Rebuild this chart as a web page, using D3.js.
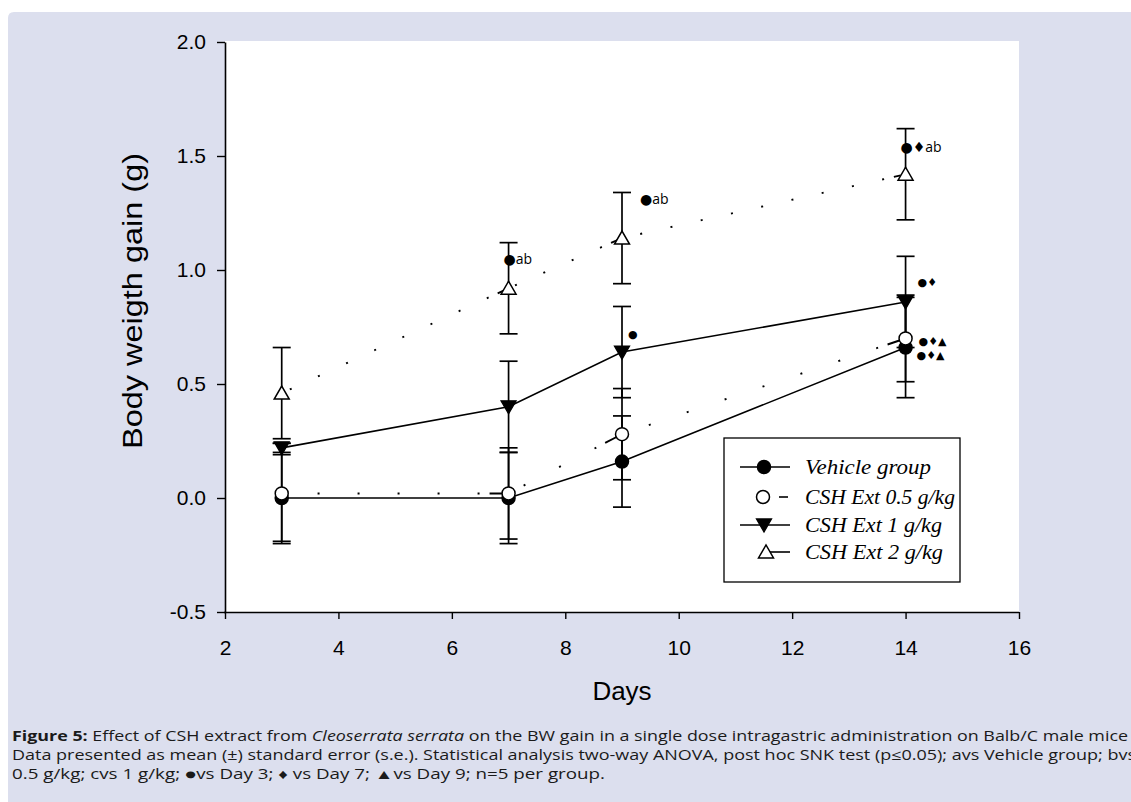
<!DOCTYPE html>
<html>
<head>
<meta charset="utf-8">
<script src="https://cdn.jsdelivr.net/npm/d3@7"></script>
<style>
  html, body { margin: 0; padding: 0; background: #ffffff; }
  svg { display: block; }
</style>
</head>
<body>
<svg id="chart" width="1131" height="802"></svg>
<script>
// ---------------- data ----------------
const days = [3, 7, 9, 14];
const seriesNames = ["Vehicle group", "CSH Ext 0.5 g/kg", "CSH Ext 1 g/kg", "CSH Ext 2 g/kg"];
const vehicleMean = [0.00, 0.00, 0.16, 0.66];
const vehicleErr  = [0.19, 0.20, 0.20, 0.22];
const csh05Mean   = [0.02, 0.02, 0.28, 0.70];
const csh05Err    = [0.22, 0.20, 0.20, 0.19];
const csh1Mean    = [0.22, 0.40, 0.64, 0.86];
const csh1Err     = [0.02, 0.20, 0.20, 0.20];
const csh2Mean    = [0.46, 0.92, 1.14, 1.42];
const csh2Err     = [0.20, 0.20, 0.20, 0.20];
const xTicks = [2, 4, 6, 8, 10, 12, 14, 16];
const yTicks = [-0.5, 0.0, 0.5, 1.0, 1.5, 2.0];
// significance annotations: day, value (vertical position in data units), label
const annotDays   = [7, 9, 14, 9, 14, 14, 14];
const annotValues = [1.05, 1.31, 1.54, 0.72, 0.945, 0.69, 0.625];
const annotLabels = ["●ab", "●ab", "●♦ab", "●", "●♦", "●♦▲", "●♦▲"];
const captionLines = [
  [{t: "Figure 5:", b: true}, {t: " Effect of CSH extract from "}, {t: "Cleoserrata serrata", i: true}, {t: " on the BW gain in a single dose intragastric administration on Balb/C male mice"}],
  [{t: "Data presented as mean (±) standard error (s.e.). Statistical analysis two-way ANOVA, post hoc SNK test (p≤0.05); avs Vehicle group; bvs"}],
  [{t: "0.5 g/kg; cvs 1 g/kg; ●vs Day 3; ♦ vs Day 7; ▲vs Day 9; n=5 per group."}]
];

// ---------------- layout ----------------
const svg = d3.select("#chart");
const W = 1131, H = 802;
const plot = {left: 225, right: 1019, top: 41, bottom: 612};
const annotShift = [-5, 18, -5, 6, 12, 13, 11];   // label placement offsets (px) from the day position

svg.append("path")
  .attr("d", `M8,${H} L8,18 Q8,12 14,12 L${W},12 L${W},${H} Z`)
  .attr("fill", "#dcdfee");

svg.append("rect")
  .attr("x", plot.left).attr("y", plot.top)
  .attr("width", plot.right - plot.left).attr("height", plot.bottom - plot.top)
  .attr("fill", "#ffffff");

const x = d3.scaleLinear().domain([2, 16]).range([plot.left, plot.right]);
const y = d3.scaleLinear().domain([-0.5, 2.0]).range([plot.bottom, 42]);

// axes
const axisFont = "'Liberation Sans', Arial, sans-serif";
const xAxis = svg.append("g")
  .attr("transform", `translate(0,${plot.bottom})`)
  .call(d3.axisBottom(x).tickValues(xTicks).tickSize(7).tickSizeOuter(0).tickFormat(d3.format("d")));
const yAxis = svg.append("g")
  .attr("transform", `translate(${plot.left},0)`)
  .call(d3.axisLeft(y).tickValues(yTicks).tickSize(8).tickSizeOuter(0).tickFormat(d3.format(".1f")));
[xAxis, yAxis].forEach(g => {
  g.select(".domain").attr("stroke", "#000").attr("stroke-width", 1.6);
  g.selectAll(".tick line").attr("stroke", "#000").attr("stroke-width", 1.4);
  g.selectAll(".tick text").attr("font-family", axisFont)
    .attr("font-size", 21).attr("fill", "#000");
});
xAxis.selectAll(".tick text").attr("dy", null).attr("y", 43);
yAxis.selectAll(".tick text").attr("x", -19).text(d => d.toFixed(1));
xAxis.select(".domain").attr("d", `M${plot.left - 1},0.5H${plot.right}`);

svg.append("text")
  .attr("x", 622).attr("y", 700)
  .attr("text-anchor", "middle")
  .attr("font-family", axisFont)
  .attr("font-size", 26)
  .text("Days");

svg.append("text")
  .attr("transform", `translate(142,301) rotate(-90)`)
  .attr("text-anchor", "middle")
  .attr("font-family", axisFont)
  .attr("font-size", 27)
  .attr("textLength", 296).attr("lengthAdjust", "spacingAndGlyphs")
  .text("Body weigth gain (g)");

// ---------------- series ----------------
const series = [
  {name: seriesNames[0], mean: vehicleMean, err: vehicleErr, marker: "circle", fill: "#000", dotted: false},
  {name: seriesNames[2], mean: csh1Mean, err: csh1Err, marker: "down", fill: "#000", dotted: false},
  {name: seriesNames[1], mean: csh05Mean, err: csh05Err, marker: "circle", fill: "#fff", dotted: true, period: 40, endDash: 14},
  {name: seriesNames[3], mean: csh2Mean, err: csh2Err, marker: "up", fill: "#fff", dotted: true, period: 31, endDash: 7}
];

const gErr = svg.append("g");
const gLine = svg.append("g");
const gMark = svg.append("g");
const capHalf = 9;

series.forEach(s => {
  days.forEach((d, i) => {
    const cx = x(d), hi = y(s.mean[i] + s.err[i]), lo = y(s.mean[i] - s.err[i]);
    gErr.append("line").attr("x1", cx).attr("x2", cx).attr("y1", hi).attr("y2", lo)
      .attr("stroke", "#000").attr("stroke-width", 1.7);
    [hi, lo].forEach(v => gErr.append("line")
      .attr("x1", cx - capHalf).attr("x2", cx + capHalf).attr("y1", v).attr("y2", v)
      .attr("stroke", "#000").attr("stroke-width", 1.7));
  });
});

function dotPattern(len, period, endDash) {
  // segment drawn from the end marker back to the start marker
  const arr = [0, 5, endDash, 10];
  let sum = 15 + endDash;
  while (sum < len + period) { arr.push(2, period - 2); sum += period; }
  return arr.join(",");
}

series.forEach(s => {
  if (!s.dotted) {
    gLine.append("path")
      .attr("d", d3.line().x((d, i) => x(days[i])).y(d => y(d))(s.mean))
      .attr("fill", "none").attr("stroke", "#000").attr("stroke-width", 1.6);
  } else {
    for (let i = 0; i < days.length - 1; i++) {
      const x1 = x(days[i + 1]), y1 = y(s.mean[i + 1]), x0 = x(days[i]), y0 = y(s.mean[i]);
      const len = Math.hypot(x1 - x0, y1 - y0);
      gLine.append("line")
        .attr("x1", x1).attr("y1", y1).attr("x2", x0).attr("y2", y0)
        .attr("stroke", "#000").attr("stroke-width", 1.9)
        .attr("stroke-dasharray", dotPattern(len, s.period, s.endDash));
    }
  }
});

function drawMarker(g, type, cx, cy, fill) {
  if (type === "circle") {
    g.append("circle").attr("cx", cx).attr("cy", cy).attr("r", 6.5)
      .attr("fill", fill).attr("stroke", "#000").attr("stroke-width", 1.5);
  } else if (type === "down") {
    g.append("path").attr("d", `M${cx - 7.5},${cy - 6} L${cx + 7.5},${cy - 6} L${cx},${cy + 7} Z`)
      .attr("fill", fill).attr("stroke", "#000").attr("stroke-width", 1.3);
  } else {
    g.append("path").attr("d", `M${cx - 7.5},${cy + 6} L${cx + 7.5},${cy + 6} L${cx},${cy - 7} Z`)
      .attr("fill", fill).attr("stroke", "#000").attr("stroke-width", 1.5);
  }
}

series.forEach(s => {
  days.forEach((d, i) => drawMarker(gMark, s.marker, x(d), y(s.mean[i]), s.fill));
});

// annotations
const gAnn = svg.append("g");
annotLabels.forEach((lab, i) => {
  gAnn.append("text")
    .attr("x", x(annotDays[i]) + annotShift[i])
    .attr("y", y(annotValues[i]))
    .attr("dy", "0.35em")
    .attr("font-family", "'Open Sans', 'DejaVu Sans', sans-serif")
    .attr("font-size", lab.includes("ab") ? 14 : 11)
    .text(lab);
});

// ---------------- legend ----------------
const lg = svg.append("g");
lg.append("rect").attr("x", 724).attr("y", 438).attr("width", 236).attr("height", 144)
  .attr("fill", "#fff").attr("stroke", "#000").attr("stroke-width", 1.3);
const legendOrder = [series[0], series[2], series[1], series[3]];
const legendY = [467, 497, 525, 552];
const legendLen = [126, 150, 137, 138];
legendOrder.forEach((s, i) => {
  const ly = legendY[i];
  if (s.marker === "circle" && s.dotted) {
    lg.append("line").attr("x1", 779).attr("x2", 788).attr("y1", ly).attr("y2", ly)
      .attr("stroke", "#000").attr("stroke-width", 1.6);
    drawMarker(lg, "circle", 763, ly, s.fill);
  } else if (s.marker === "up") {
    lg.append("line").attr("x1", 768).attr("x2", 790).attr("y1", ly).attr("y2", ly)
      .attr("stroke", "#000").attr("stroke-width", 1.6);
    drawMarker(lg, "up", 766, ly, s.fill);
  } else {
    lg.append("line").attr("x1", 740).attr("x2", 790).attr("y1", ly).attr("y2", ly)
      .attr("stroke", "#000").attr("stroke-width", 1.6);
    drawMarker(lg, s.marker, 764, ly, s.fill);
  }
  lg.append("text").attr("x", 805).attr("y", ly).attr("dy", "0.33em")
    .attr("font-family", "'Liberation Serif', 'Times New Roman', serif")
    .attr("font-style", "italic").attr("font-size", 21)
    .attr("textLength", legendLen[i]).attr("lengthAdjust", "spacingAndGlyphs")
    .text(s.name);
});

// ---------------- caption ----------------
const capY = [741, 760, 779];
const capLen = [1116, 1124, 593];
captionLines.forEach((parts, li) => {
  const t = svg.append("text").attr("x", 12).attr("y", capY[li])
    .attr("font-family", "'Open Sans', Lato, sans-serif").attr("font-size", 13.8).attr("fill", "#1a1a1a")
    .attr("textLength", capLen[li]).attr("lengthAdjust", "spacingAndGlyphs");
  parts.forEach(p => {
    const ts = t.append("tspan").text(p.t);
    if (p.b) ts.attr("font-weight", "bold");
    if (p.i) ts.attr("font-style", "italic");
  });
});
</script>
</body>
</html>
